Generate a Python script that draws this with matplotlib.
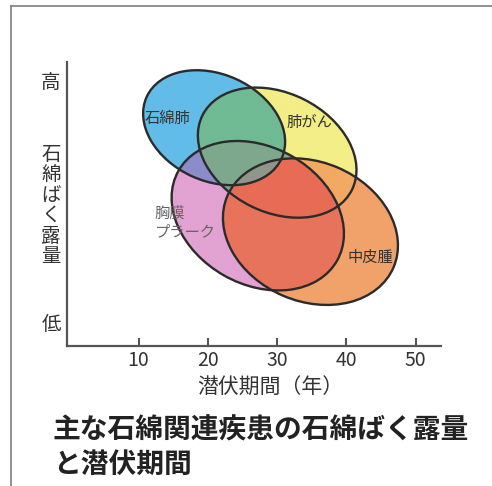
import numpy as np
import matplotlib
matplotlib.use('Agg')
import matplotlib.pyplot as plt
from matplotlib.patches import Ellipse
from matplotlib.lines import Line2D
from matplotlib.colors import to_rgba

plt.rcParams['font.family'] = ['Noto Sans CJK JP', 'DejaVu Sans']

# diseases: blue, yellow, pink, orange
diseases = ['石綿肺', '肺がん', '胸膜\nプラーク', '中皮腫']
center_x = [20.9, 30.0, 27.2, 34.8]    # latency (years)
center_y = [31.5, 27.9, 18.8, 16.5]    # exposure (relative)
widths = [21.4, 24.1, 26.3, 26.1]
heights = [15.4, 17.2, 19.8, 20.1]
angles = [-24.5, -26.5, -29.6, -23.3]
label_x = [14.2, 34.7, 12.3, 43.4]
label_y = [32.9, 32.3, 17.8, 12.8]
label_ha = ['center', 'center', 'left', 'center']
label_color = ['#333333', '#333333', '#666666', '#333333']

xticks = [10, 20, 30, 40, 50]
xlim = (-0.33, 53.64)
ylim = (0, 40.98)

# colour of each overlap region, key = inside (blue, yellow, pink, orange)
region_colors = {
    (1, 0, 0, 0): '#62bce8',
    (0, 1, 0, 0): '#f3ee86',
    (0, 0, 1, 0): '#e2a2d2',
    (0, 0, 0, 1): '#f1a26a',
    (1, 1, 0, 0): '#70ba94',
    (1, 0, 1, 0): '#8c8ccb',
    (1, 1, 1, 0): '#7ea88d',
    (0, 1, 1, 0): '#7ea88d',
    (1, 1, 1, 1): '#8f978a',
    (0, 0, 1, 1): '#e8735b',
    (0, 1, 1, 1): '#e86c55',
    (0, 1, 0, 1): '#f2a963',
}
fallback = '#8f978a'

fig = plt.figure(figsize=(4.92, 4.86), dpi=100)
ax = fig.add_axes([67/492, 140/486, 374/492, 284/486])

# membership masks on a fine grid
nx, ny = 1100, 840
gx = np.linspace(xlim[0], xlim[1], nx)
gy = np.linspace(ylim[0], ylim[1], ny)
X, Y = np.meshgrid(gx, gy)
masks = []
for cx, cy, w, h, a in zip(center_x, center_y, widths, heights, angles):
    t = np.deg2rad(a)
    dx, dy = X - cx, Y - cy
    u = dx*np.cos(t) + dy*np.sin(t)
    v = -dx*np.sin(t) + dy*np.cos(t)
    masks.append((u/(w/2))**2 + (v/(h/2))**2 <= 1)
masks = np.array(masks).astype(int)

img = np.zeros((ny, nx, 4))
keys = masks[0]*8 + masks[1]*4 + masks[2]*2 + masks[3]
for code in range(1, 16):
    key = ((code >> 3) & 1, (code >> 2) & 1, (code >> 1) & 1, code & 1)
    col = to_rgba(region_colors.get(key, fallback))
    img[keys == code] = col

ax.imshow(img, extent=[xlim[0], xlim[1], ylim[0], ylim[1]], origin='lower',
          aspect='auto', interpolation='antialiased', zorder=1)

for cx, cy, w, h, a in zip(center_x, center_y, widths, heights, angles):
    ax.add_patch(Ellipse((cx, cy), w, h, angle=a, fill=False,
                         ec='#2b2b2b', lw=1.7, zorder=2))

for name, lx, ly, ha, c in zip(diseases, label_x, label_y, label_ha, label_color):
    ax.text(lx, ly, name, ha=ha, va='center', fontsize=11, color=c,
            linespacing=1.1, zorder=3)

ax.set_xlim(xlim)
ax.set_ylim(ylim)
ax.set_xticks(xticks)
ax.set_yticks([])
ax.tick_params(axis='x', direction='in', length=6, width=1.5, colors='#555555',
               labelcolor='#333333', labelsize=14, pad=3)
for s in ['top', 'right']:
    ax.spines[s].set_visible(False)
for s in ['left', 'bottom']:
    ax.spines[s].set_color('#555555')
    ax.spines[s].set_linewidth(1.6)

# y axis wording, stacked vertically
fig.text(51/492, 1 - 82/486, '高', ha='center', va='center', fontsize=14, color='#333333')
fig.text(51/492, 1 - 324/486, '低', ha='center', va='center', fontsize=14, color='#333333')
for i, ch in enumerate('石綿ばく露量'):
    fig.text(51/492, 1 - (154 + i*20.5)/486, ch, ha='center', va='center',
             fontsize=14, color='#333333')

fig.text(270/492, 1 - 388/486, '潜伏期間（年）', ha='center', va='center',
         fontsize=15, color='#333333')

fig.text(53/492, 1 - 430/486, '主な石綿関連疾患の石綿ばく露量', ha='left', va='center',
         fontsize=20, fontweight='bold', color='#222222')
fig.text(53/492, 1 - 465/486, 'と潜伏期間', ha='left', va='center',
         fontsize=20, fontweight='bold', color='#222222')

# page frame
fig.add_artist(Line2D([11/492, 11/492], [0, 1 - 6.5/486], color='#888888', lw=1.3))
fig.add_artist(Line2D([11/492, 1], [1 - 6.5/486, 1 - 6.5/486], color='#888888', lw=1.3))

fig.savefig('out.png', dpi=100)
